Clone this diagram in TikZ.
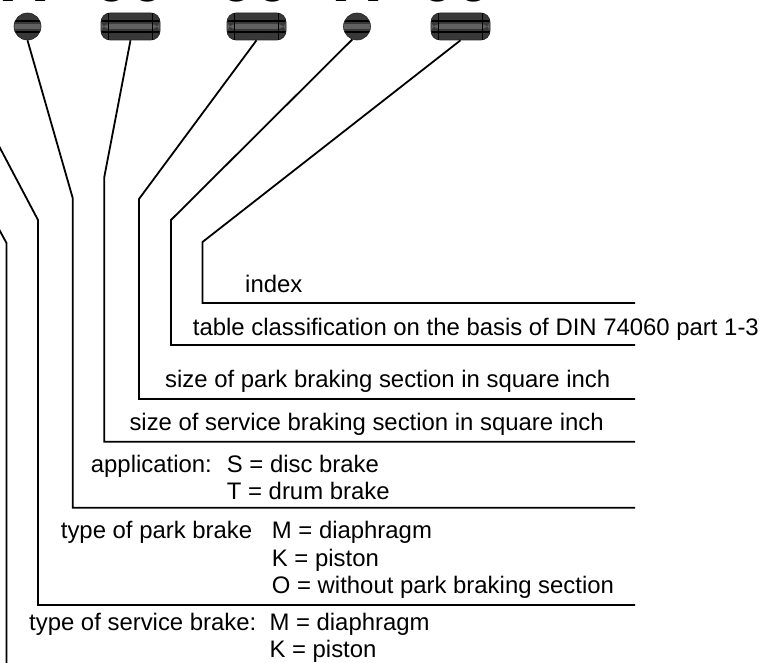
\documentclass[tikz,border=0pt]{standalone}
\usepackage{fontspec}
\setmainfont{Liberation Sans}
\usetikzlibrary{calc}
\begin{document}
\begin{tikzpicture}[x=1pt,y=-1pt,
  knob/.style={draw=black!85, line width=0.6pt, fill=black!78, inner sep=0pt,
    path picture={
      \fill[black!62] ([yshift=-2.5pt]path picture bounding box.west) rectangle ([yshift=2.5pt]path picture bounding box.east);
      \draw[black, line width=1.3pt] ([yshift=5.5pt]path picture bounding box.west) -- ([yshift=5.5pt]path picture bounding box.east);
      \draw[black, line width=1.3pt] ([yshift=-5.5pt]path picture bounding box.west) -- ([yshift=-5.5pt]path picture bounding box.east);
    }},
  dot/.style={knob, circle, minimum size=27pt},
  bar/.style={knob, rectangle, rounded corners=9pt, minimum width=59pt, minimum height=27pt,
    append after command={
      ([xshift=8pt]\tikzlastnode.north west) edge[draw=black, line width=0.9pt] ([xshift=8pt]\tikzlastnode.south west)
      ([xshift=-8pt]\tikzlastnode.north east) edge[draw=black, line width=0.9pt] ([xshift=-8pt]\tikzlastnode.south east)
    }},
  leader/.style={draw=black, line width=1.8pt, line join=miter},
  lbl/.style={anchor=base west, inner sep=0pt, font=\fontsize{23.9}{27}\selectfont},
  topglyph/.style={anchor=base, inner sep=0pt, font=\fontsize{66}{66}\selectfont\bfseries}
]
\useasboundingbox (0,0) rectangle (771,663);
\clip (0,0) rectangle (771,663);

% cut-off designation characters at the top edge
\node[topglyph] (g1) at (25,1.8) {X};
\node[topglyph] (g2) at (130,1.8) {00};
\node[topglyph] (g3) at (255,1.8) {00};
\node[topglyph] (g4) at (358,1.8) {X};
\node[topglyph] (g5) at (456,1.8) {00};

% knobs
\node[dot] (k1) at (27.5,26.5) {};
\node[bar] (k2) at (130.5,26.5) {};
\node[bar] (k3) at (256.5,26.5) {};
\node[dot] (k4) at (357,26.5) {};
\node[bar] (k5) at (460.5,26.5) {};

% bend points
\coordinate (b1) at (72.7,198);
\coordinate (b2) at (104.3,177);
\coordinate (b3) at (139,199);
\coordinate (b4) at (171,220);
\coordinate (b5) at (202.5,242);
\coordinate (bA) at (38,220);
\coordinate (bB) at (6.5,243);
\coordinate (oA) at (-58,38);
\coordinate (oB) at (-104,40);

% ends
\coordinate (e1) at (635,507.7);
\coordinate (e2) at (635,441.7);
\coordinate (e3) at (635,399);
\coordinate (e4) at (635,345);
\coordinate (e5) at (635,303);
\coordinate (eA) at (635,605);
\coordinate (eB) at (6.5,690);

% leaders
\draw[leader] (k1.south) -- (b1) |- (e1);
\draw[leader] (k2.south) -- (b2) |- (e2);
\draw[leader] (k3.south) -- (b3) |- (e3);
\draw[leader] (k4.-110) -- (b4) |- (e4);
\draw[leader] (k5.south) -- (b5) |- (e5);
\draw[leader] (oA) -- (bA) |- (eA);
\draw[leader] (oB) -- (bB) -- (eB);

% labels
\node[lbl] (t1) at (245,292.7) {index};
\node[lbl] (t2) at (192.7,335) {table classification on the basis of DIN 74060 part 1-3};
\node[lbl] (t3) at (165,387) {size of park braking section in square inch};
\node[lbl] (t4) at (129.3,430.7) {size of service braking section in square inch};
\node[lbl] (t5) at (90.7,472) {application:};
\node[lbl] (t5a) at (226.7,472) {S = disc brake};
\node[lbl] (t5b) at (226.7,499.3) {T = drum brake};
\node[lbl] (t6) at (60.7,538.3) {type of park brake};
\node[lbl] (t6a) at (271.7,538.3) {M = diaphragm};
\node[lbl] (t6b) at (271.7,566) {K = piston};
\node[lbl] (t6c) at (271.7,593.3) {O = without park braking section};
\node[lbl] (t7) at (29,630) {type of service brake:};
\node[lbl] (t7a) at (269.3,630) {M = diaphragm};
\node[lbl] (t7b) at (269.3,657) {K = piston};
\end{tikzpicture}
\end{document}
